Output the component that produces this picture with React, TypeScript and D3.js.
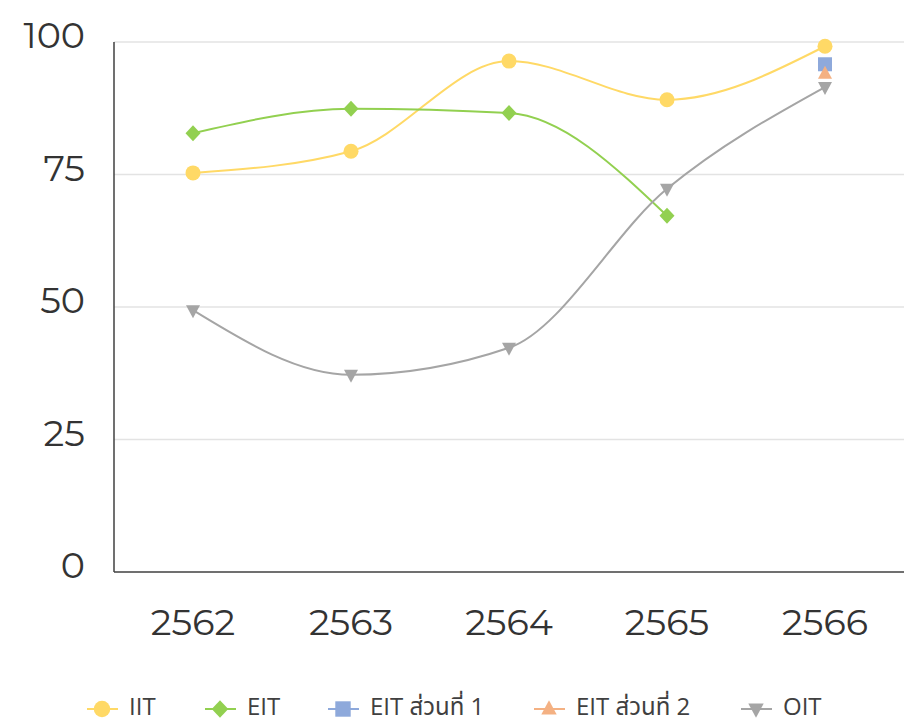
import React from "react";
import * as d3 from "d3";

const years = ["2562", "2563", "2564", "2565", "2566"];
const iit = [75.3, 79.4, 96.4, 89.1, 99.2];
const eit = [82.8, 87.4, 86.6, 67.2, null];
const eit1 = [null, null, null, null, 95.8];
const eit2 = [null, null, null, null, 94.0];
const oit = [49.4, 37.2, 42.3, 72.3, 91.5];
const yTicks = [0, 25, 50, 75, 100];

type S = { name: string; values: (number | null)[]; color: string; shape: string };
const series: S[] = [
  { name: "IIT", values: iit, color: "#FFD966", shape: "circle" },
  { name: "EIT", values: eit, color: "#92D050", shape: "diamond" },
  { name: "EIT ส่วนที่ 1", values: eit1, color: "#8EA9DB", shape: "square" },
  { name: "EIT ส่วนที่ 2", values: eit2, color: "#F4B183", shape: "triangle" },
  { name: "OIT", values: oit, color: "#A5A5A5", shape: "triangleDown" },
];
const legendX = [102, 220, 343, 549, 756];

const font = "Montserrat, 'Noto Sans', 'Open Sans', sans-serif";
const legendFont = "'Open Sans', 'Noto Sans', 'Noto Sans Thai', sans-serif";

function Marker({ shape, x, y, color, s = 1 }: { shape: string; x: number; y: number; color: string; s?: number }) {
  if (shape === "circle") return <circle cx={x} cy={y} r={7.5 * s} fill={color} />;
  if (shape === "diamond")
    return <path d={`M${x},${y - 8 * s}L${x + 7.5 * s},${y}L${x},${y + 8 * s}L${x - 7.5 * s},${y}Z`} fill={color} />;
  if (shape === "square") return <rect x={x - 7 * s} y={y - 7 * s} width={14 * s} height={14 * s} fill={color} />;
  if (shape === "triangle")
    return <path d={`M${x},${y - 8 * s}L${x + 7 * s},${y + 5 * s}L${x - 7 * s},${y + 5 * s}Z`} fill={color} />;
  return <path d={`M${x - 7 * s},${y - 5 * s}L${x + 7 * s},${y - 5 * s}L${x},${y + 8 * s}Z`} fill={color} />;
}

export default function App() {
  const W = 919, H = 722;
  const left = 114, right = 904, top = 42, bottom = 572;
  const x = d3.scaleBand().domain(years).range([left, right]);
  const y = d3.scaleLinear().domain([0, 100]).range([bottom, top]);
  const cx = (i: number) => (x(years[i]) as number) + x.bandwidth() / 2;
  const line = d3
    .line<[number, number]>()
    .x((d) => d[0])
    .y((d) => d[1])
    .curve(d3.curveMonotoneX);

  return (
    <svg width={W} height={H} style={{ position: "absolute", left: 0, top: 0 }}>
      <rect width={W} height={H} fill="#fff" />
      {yTicks.slice(1).map((t) => (
        <line key={t} x1={left} x2={right} y1={y(t)} y2={y(t)} stroke="#e3e3e3" strokeWidth={1.5} />
      ))}
      <line x1={left} x2={left} y1={top} y2={bottom} stroke="#404040" strokeWidth={1.5} />
      <line x1={left} x2={right} y1={bottom} y2={bottom} stroke="#404040" strokeWidth={1.5} />
      {yTicks.map((t) => (
        <text key={t} x={85} y={y(t) - 7} dy="0.36em" textAnchor="end" fontSize={36.5} fill="#333" fontFamily={font}>
          {t}
        </text>
      ))}
      {years.map((yr, i) => (
        <text key={yr} x={cx(i)} y={621.5} dy="0.36em" textAnchor="middle" fontSize={36.5} fill="#333" fontFamily={font}>
          {yr}
        </text>
      ))}
      {series.map((s) => {
        const pts: [number, number][] = [];
        s.values.forEach((v, i) => {
          if (v != null) pts.push([cx(i), y(v)]);
        });
        return (
          <g key={s.name}>
            {pts.length > 1 && <path d={line(pts) || ""} fill="none" stroke={s.color} strokeWidth={2} />}
          </g>
        );
      })}
      {series.map((s) => (
        <g key={s.name + "m"}>
          {s.values.map((v, i) =>
            v == null ? null : <Marker key={i} shape={s.shape} x={cx(i)} y={y(v)} color={s.color} />
          )}
        </g>
      ))}
      {series.map((s, i) => (
        <g key={s.name + "l"}>
          <line x1={legendX[i] - 15} x2={legendX[i] + 16} y1={709} y2={709} stroke={s.color} strokeWidth={2} />
          <Marker shape={s.shape} x={legendX[i]} y={709} color={s.color} s={1.1} />
          <text x={legendX[i] + 27} y={714.5} fontSize={24} fill="#404040" fontFamily={legendFont}>
            {s.name}
          </text>
        </g>
      ))}
    </svg>
  );
}
